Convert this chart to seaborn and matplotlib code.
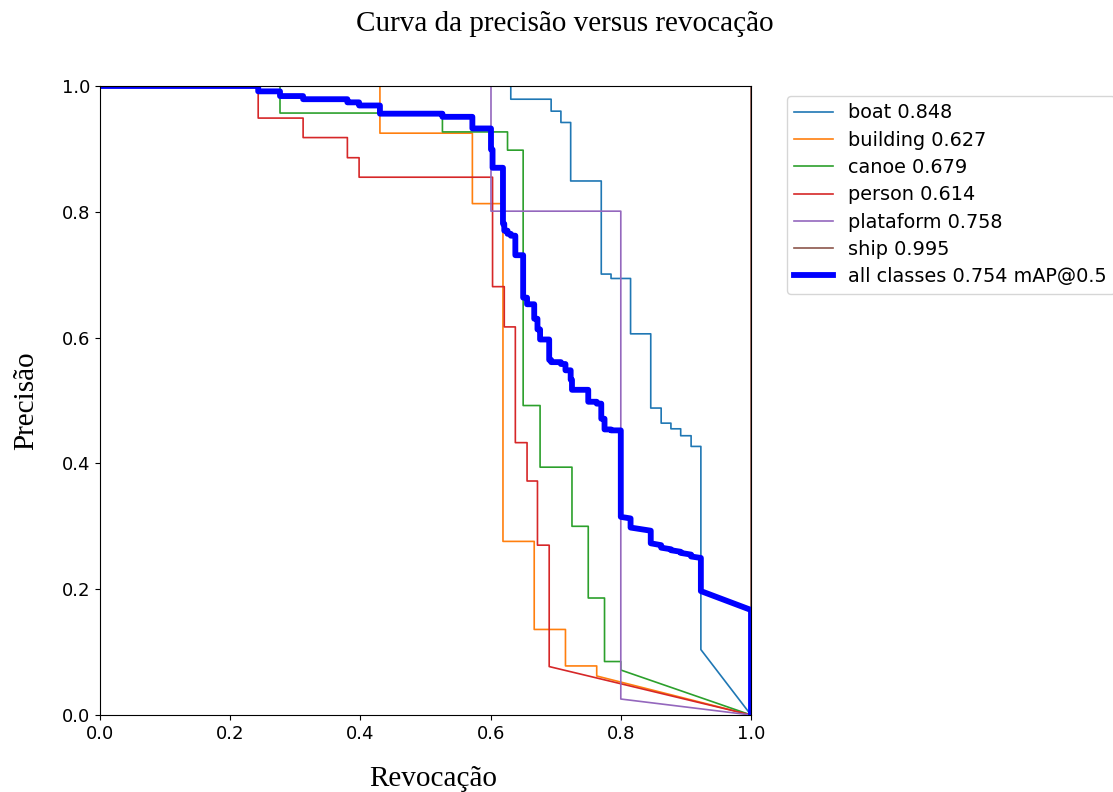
import matplotlib
matplotlib.use("Agg")
import matplotlib.pyplot as plt
import seaborn as sns

# Precision-recall curve per class (step breaks in recall, precision levels)
boat_breaks = [0.631, 0.693, 0.708, 0.723, 0.770, 0.785, 0.815, 0.846, 0.862, 0.877, 0.892, 0.908, 0.923]
boat_levels = [1.0, 0.979, 0.960, 0.942, 0.849, 0.701, 0.694, 0.606, 0.488, 0.464, 0.455, 0.444, 0.427, 0.104]

building_breaks = [0.430, 0.572, 0.619, 0.667, 0.715, 0.763]
building_levels = [1.0, 0.925, 0.813, 0.276, 0.136, 0.078, 0.062]

canoe_breaks = [0.2765, 0.526, 0.626, 0.650, 0.676, 0.725, 0.750, 0.775, 0.800]
canoe_levels = [1.0, 0.957, 0.927, 0.898, 0.492, 0.394, 0.300, 0.186, 0.085, 0.0715]

person_breaks = [0.243, 0.312, 0.380, 0.398, 0.603, 0.621, 0.638, 0.656, 0.672, 0.690]
person_levels = [1.0, 0.949, 0.918, 0.886, 0.855, 0.681, 0.617, 0.433, 0.372, 0.270, 0.077]

plataform_breaks = [0.6006, 0.800]
plataform_levels = [1.0, 0.801, 0.0254]

ship_breaks = [1.0]
ship_levels = [1.0, 0.0]

# mean curve over all classes
all_breaks = [0.243, 0.2765, 0.312, 0.380, 0.398, 0.430, 0.526, 0.572, 0.6006, 0.603,
              0.619, 0.621, 0.626, 0.631, 0.638, 0.650, 0.656, 0.667, 0.672, 0.676,
              0.690, 0.693, 0.708, 0.715, 0.723, 0.725, 0.750, 0.763, 0.770, 0.775,
              0.785, 0.800]
all_levels = [1.0, 0.9915, 0.984, 0.979, 0.974, 0.969, 0.956, 0.951, 0.9325, 0.899,
              0.870, 0.781, 0.770, 0.765, 0.762, 0.731, 0.6635, 0.653, 0.630, 0.613,
              0.597, 0.5645, 0.561, 0.558, 0.548, 0.533, 0.517, 0.498, 0.495, 0.471,
              0.454, 0.4525, 0.315]
all_tail_r = [0.815, 0.815, 0.846, 0.846, 0.862, 0.862, 0.877, 0.877, 0.892, 0.892,
              0.908, 0.908, 0.923, 0.923, 1.0, 1.0]
all_tail_p = [0.3125, 0.298, 0.293, 0.273, 0.270, 0.266, 0.2635, 0.262, 0.2595, 0.2577,
              0.255, 0.252, 0.2497, 0.197, 0.167, 0.0]

class_names = ["boat 0.848", "building 0.627", "canoe 0.679", "person 0.614",
               "plataform 0.758", "ship 0.995"]
class_breaks = [boat_breaks, building_breaks, canoe_breaks, person_breaks,
                plataform_breaks, ship_breaks]
class_levels = [boat_levels, building_levels, canoe_levels, person_levels,
                plataform_levels, ship_levels]


def step_vertices(breaks, levels):
    xs, ys = [0.0], [levels[0]]
    for b, prev, new in zip(breaks, levels[:-1], levels[1:]):
        xs += [b, b]
        ys += [prev, new]
    return xs, ys


fig = plt.figure(figsize=(11.13, 7.92), dpi=100)
ax = fig.add_axes([100 / 1113, 77 / 792, 651 / 1113, 629 / 792])

palette = sns.color_palette("tab10")
for i, (name, br, lv) in enumerate(zip(class_names, class_breaks, class_levels)):
    xs, ys = step_vertices(br, lv)
    xs.append(1.0)
    ys.append(0.0)
    sns.lineplot(x=xs, y=ys, sort=False, estimator=None, ax=ax,
                 color=palette[i], linewidth=1.2, label=name)

xs, ys = step_vertices(all_breaks, all_levels)
xs += all_tail_r
ys += all_tail_p
sns.lineplot(x=xs, y=ys, sort=False, estimator=None, ax=ax,
             color="blue", linewidth=4.2, label="all classes 0.754 mAP@0.5")

ax.set_xlim(0, 1)
ax.set_ylim(0, 1)
ax.set_xticks([0, 0.2, 0.4, 0.6, 0.8, 1.0])
ax.set_yticks([0, 0.2, 0.4, 0.6, 0.8, 1.0])
ax.tick_params(labelsize=13)

serif = {"family": "Liberation Serif", "size": 21}
ax.set_xlabel("Revocação", fontdict=serif, labelpad=17)
ax.xaxis.label.set_x(0.512)
ax.set_ylabel("Precisão", fontdict=serif, labelpad=16)
fig.text(565 / 1113, 1 - 24 / 792, "Curva da precisão versus revocação",
         ha="center", va="center", fontdict=serif)

ax.legend(bbox_to_anchor=(1.04, 1), loc="upper left", fontsize=13.9,
          labelspacing=0.43)

fig.savefig("out.png", dpi=100)
